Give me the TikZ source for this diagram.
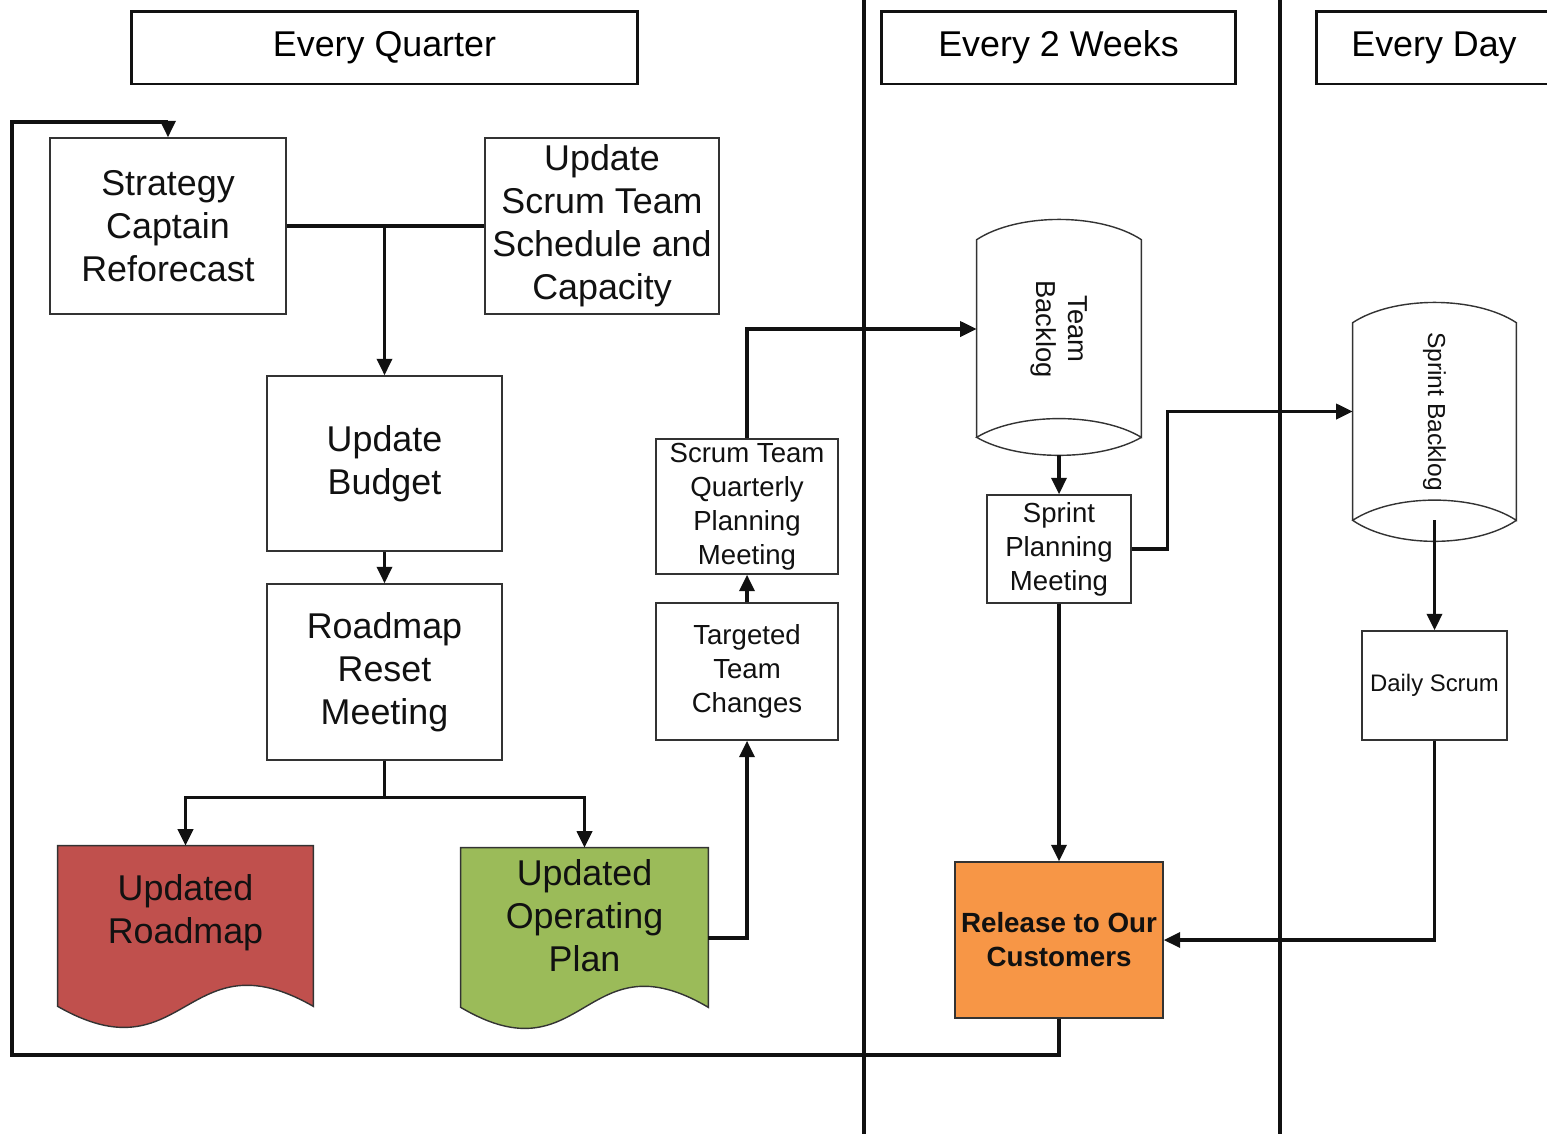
\documentclass[tikz,border=0pt]{standalone}
\usepackage{fontspec}
\setmainfont{Liberation Sans}
\usetikzlibrary{arrows.meta,calc,backgrounds}
\definecolor{Ink}{HTML}{111111}
\definecolor{Edge}{HTML}{333333}
\definecolor{RoadRed}{HTML}{C0504D}
\definecolor{PlanGreen}{HTML}{9BBB59}
\definecolor{ShipOrange}{HTML}{F79646}
\tikzset{
  stepbox/.style={
    draw=Edge, line width=0.8pt, fill=white, align=center, inner sep=1pt,
    text=Ink, font=\fontsize{20.4}{24.4}\selectfont
  },
  smallbox/.style={stepbox, font=\fontsize{15.7}{19.3}\selectfont},
  docbox/.style={align=center, inner sep=1pt, text=Ink,
    font=\fontsize{20.4}{24.4}\selectfont},
  store/.style={inner sep=1pt, text=Ink, font=\fontsize{15.6}{18.7}\selectfont},
  lanehead/.style={
    draw=Ink, line width=1.7pt, inner sep=1pt, minimum height=1.46cm,
    font=\fontsize{20.4}{24.4}\selectfont
  },
  outline/.style={draw=Edge, line width=0.8pt},
  flow/.style={-{Triangle[length=0.33cm,width=0.30cm]}, line width=2pt, draw=Ink},
  joint/.style={line width=2pt, draw=Ink},
  lane/.style={line width=2.8pt, draw=Ink}
}

\begin{document}
\begin{tikzpicture}[x=0.02cm,y=-0.02cm]
  \useasboundingbox (0,0) rectangle (1547,1134);

  % swim lanes
  \draw[lane] (864,0) -- (864,1134);
  \draw[lane] (1280,0) -- (1280,1134);
  \node[lanehead,minimum width=10.14cm] (hq) at (384.5,47.5) {Every Quarter};
  \node[lanehead,minimum width=7.10cm] (hw) at (1058.5,47.5) {Every 2 Weeks};
  \node[lanehead,minimum width=4.72cm] (hd) at (1434,47.5) {Every Day};

  % quarterly steps
  \node[stepbox,minimum width=4.72cm,minimum height=3.52cm] (strat) at (168,226)
    {Strategy\\Captain\\Reforecast};
  \node[stepbox,minimum width=4.68cm,minimum height=3.52cm] (sched) at (602,226)
    {Update\\Scrum Team\\Schedule and\\Capacity};
  \node[stepbox,minimum width=4.70cm,minimum height=3.50cm] (bud) at (384.5,463.5)
    {Update\\Budget};
  \node[stepbox,minimum width=4.70cm,minimum height=3.52cm] (reset) at (384.5,672)
    {Roadmap\\Reset\\Meeting};
  \node[smallbox,minimum width=3.64cm,minimum height=2.70cm] (sqp) at (747,506.5)
    {Scrum Team\\Quarterly\\Planning\\Meeting};
  \node[smallbox,minimum width=3.64cm,minimum height=2.74cm] (ttc) at (747,671.5)
    {Targeted\\Team\\Changes};

  % documents
  \node[docbox,minimum width=5.10cm,minimum height=2.68cm] (urm) at (185.5,913)
    {Updated\\Roadmap};
  \node[docbox,minimum width=4.94cm,minimum height=2.72cm] (uop) at (584.5,916)
    {Updated\\Operating\\Plan};
  \begin{scope}[on background layer]
    \draw[outline,fill=RoadRed] ($(urm.south west)+(0,26)$) -- (urm.north west)
      -- (urm.north east) -- ($(urm.south east)+(0,26)$)
      .. controls +(-127.5,-73) and +(127.5,73) .. cycle;
    \draw[outline,fill=PlanGreen] ($(uop.south west)+(0,23)$) -- (uop.north west)
      -- (uop.north east) -- ($(uop.south east)+(0,23)$)
      .. controls +(-123.5,-73) and +(123.5,73) .. cycle;
  \end{scope}

  % sprint steps
  \node[store,minimum width=3.28cm,minimum height=3.56cm] (tb) at (1059,329)
    {\rotatebox[origin=c]{-90}{\begin{tabular}{@{}c@{}}Team\\Backlog\end{tabular}}};
  \draw[outline] ($(tb.south west)+(0,19)$) -- (tb.north west)
    .. controls +(41,-27) and +(-41,-27) .. (tb.north east)
    -- ($(tb.south east)+(0,19)$)
    .. controls +(-41,-25) and +(41,-25) .. ($(tb.south west)+(0,19)$)
    .. controls +(41,24) and +(-41,24) .. ($(tb.south east)+(0,19)$);
  \node[smallbox,minimum width=2.88cm,minimum height=2.16cm] (spm) at (1059,549)
    {Sprint\\Planning\\Meeting};
  \node[stepbox,fill=ShipOrange,font=\bfseries\fontsize{15.8}{19.3}\selectfont,
    minimum width=4.16cm,minimum height=3.12cm] (rel) at (1059,940)
    {Release to Our\\Customers};

  % daily steps
  \node[store,font=\fontsize{14}{17}\selectfont,
    minimum width=3.26cm,minimum height=3.54cm] (sb) at (1434.5,411.5)
    {\rotatebox[origin=c]{-90}{Sprint Backlog}};
  \draw[outline] ($(sb.south west)+(0,20)$) -- (sb.north west)
    .. controls +(41,-27) and +(-41,-27) .. (sb.north east)
    -- ($(sb.south east)+(0,20)$)
    .. controls +(-41,-27) and +(41,-27) .. ($(sb.south west)+(0,20)$)
    .. controls +(41,28) and +(-41,28) .. ($(sb.south east)+(0,20)$);
  \node[stepbox,font=\fontsize{13.6}{16}\selectfont,
    minimum width=2.90cm,minimum height=2.18cm] (ds) at (1434.5,685.5) {Daily Scrum};

  % connectors
  \coordinate (loopbl) at (12,1055);
  \coordinate (looptl) at (12,122);
  \draw[flow] (rel.south) |- (loopbl) -- (looptl) -| (strat.north);
  \draw[joint] (strat.east) -- (sched.west);
  \draw[flow] (strat.east -| bud.north) -- (bud.north);
  \draw[flow] (bud.south) -- (reset.north);
  \draw[flow] (reset.south) -- ++(0,37) -| (urm.north);
  \draw[flow] (reset.south) -- ++(0,37) -| (uop.north);
  \draw[flow] ($(uop.east)+(0,22)$) -| (ttc.south);
  \draw[flow] (ttc.north) -- (sqp.south);
  \draw[flow] (sqp.north) |- (tb.west);
  \draw[flow] ($(tb.south)+(0,37)$) -- (spm.north);
  \draw[flow] (spm.east) -- ++(36,0) |- (sb.west);
  \draw[flow] ($(sb.south)+(0,20)$) -- (ds.north);
  \draw[flow] (ds.south) |- (rel.east);
  \draw[flow] (spm.south) -- (rel.north);
\end{tikzpicture}
\end{document}
